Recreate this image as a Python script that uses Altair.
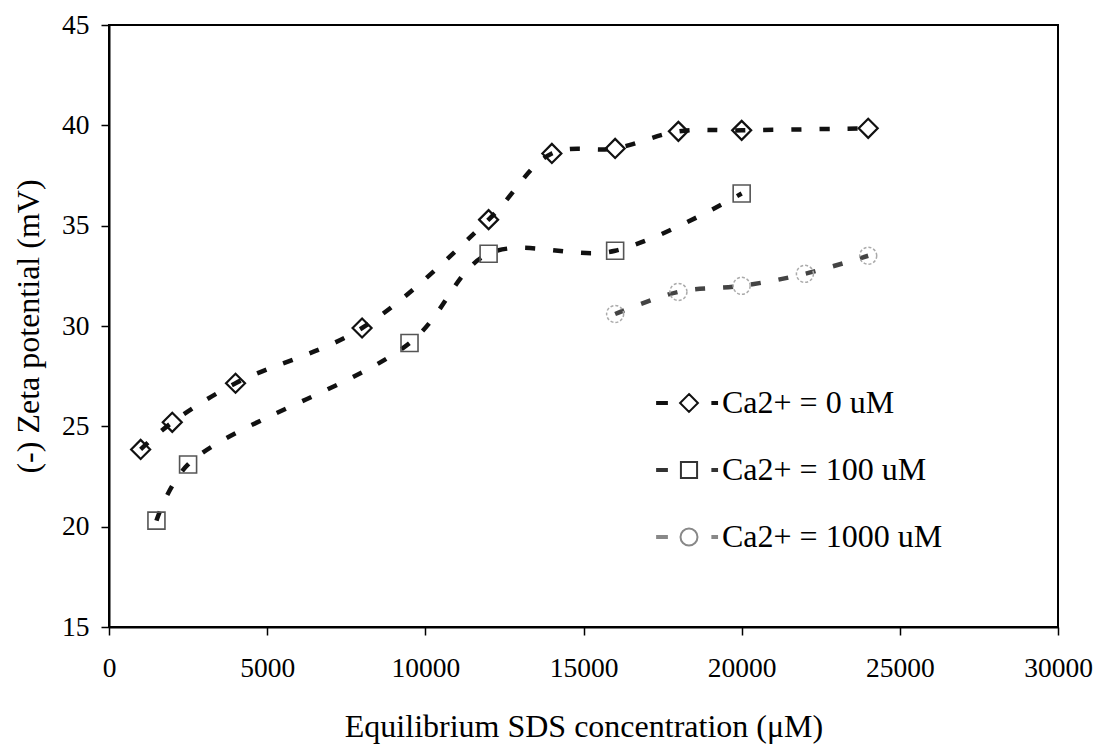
import altair as alt
import pandas as pd

# Zeta potential vs. equilibrium SDS concentration, one series per Ca2+ level
sds_0 = [1000, 2000, 4000, 8000, 12000, 14000, 16000, 18000, 20000, 24000]
zeta_0 = [23.85, 25.2, 27.15, 29.9, 35.3, 38.6, 38.85, 39.7, 39.75, 39.85]

sds_100 = [1500, 2500, 9500, 12000, 16000, 20000]
zeta_100 = [20.3, 23.1, 29.15, 33.6, 33.75, 36.6]

sds_1000 = [16000, 18000, 20000, 22000, 24000]
zeta_1000 = [30.6, 31.7, 32.0, 32.6, 33.5]

labels = ["Ca2+ = 0 uM", "Ca2+ = 100 uM", "Ca2+ = 1000 uM"]
x_ticks = [0, 5000, 10000, 15000, 20000, 25000, 30000]
y_ticks = [15, 20, 25, 30, 35, 40, 45]

FONT = "Liberation Serif"

frames = [
    pd.DataFrame({"sds": sds_0, "zeta": zeta_0, "series": labels[0]}),
    pd.DataFrame({"sds": sds_100, "zeta": zeta_100, "series": labels[1]}),
    pd.DataFrame({"sds": sds_1000, "zeta": zeta_1000, "series": labels[2]}),
]
all_data = pd.concat(frames, ignore_index=True)

x_enc = alt.X(
    "sds:Q",
    scale=alt.Scale(domain=[0, 30000], nice=False),
    axis=alt.Axis(
        values=x_ticks, format="d", title="Equilibrium SDS concentration (μM)",
        grid=False, tickSize=8, tickWidth=1.5, tickColor="black",
        domainColor="black", domainWidth=2, labelFont=FONT, labelFontSize=27.5,
        labelColor="black", labelPadding=19, labelFlush=False, labelOverlap=False,
        titleFont=FONT, titleFontSize=32, titleFontWeight="normal",
        titleColor="black", titlePadding=30,
    ),
)
y_enc = alt.Y(
    "zeta:Q",
    scale=alt.Scale(domain=[15, 45], nice=False),
    axis=alt.Axis(
        values=y_ticks, title="(-) Zeta potential (mV)",
        grid=False, tickSize=8, tickWidth=1.5, tickColor="black",
        domainColor="black", domainWidth=2, labelFont=FONT, labelFontSize=27.5,
        labelColor="black", labelPadding=12, labelFlush=False,
        titleFont=FONT, titleFontSize=32, titleFontWeight="normal",
        titleColor="black", titlePadding=16,
    ),
)

line_colors = ["#111111", "#111111", "#444444"]
marker_shapes = ["diamond", "square", "circle"]
marker_colors = ["#111111", "#555555", "#aaaaaa"]
marker_sizes = [361, 289, 289]
marker_widths = [2.2, 1.6, 1.5]

layers = []
for df, lc in zip(frames, line_colors):
    layers.append(
        alt.Chart(df).mark_line(
            interpolate="catmull-rom", strokeDash=[10, 18], strokeWidth=4.5,
            color=lc,
        ).encode(x=x_enc, y=y_enc)
    )
for df, shp, mc, ms, mw in zip(frames, marker_shapes, marker_colors,
                               marker_sizes, marker_widths):
    pt = dict(shape=shp, filled=False, color=mc, size=ms, strokeWidth=mw,
              opacity=1)
    if shp == "circle":
        pt["strokeDash"] = [3, 2]
    layers.append(alt.Chart(df).mark_point(**pt).encode(x=x_enc, y=y_enc))

# legend symbols: dash, marker, dot (unit coordinates of the symbol)
dash_l = "M-3.75,-0.12H-2.6V0.12H-3.75Z"
dot_r = "M2.75,-0.12H3.3V0.12H2.75Z"
legend_paths = [
    dash_l + "M0,-1.05L1.05,0L0,1.05L-1.05,0Z" + dot_r,
    dash_l + "M-0.95,-0.95H0.95V0.95H-0.95Z" + dot_r,
    dash_l + "M-1,0A1,1 0 1,0 1,0A1,1 0 1,0 -1,0Z" + dot_r,
]
legend_strokes = ["#111111", "#333333", "#888888"]

legend_def = alt.Legend(
    title=None, orient="none", legendX=564, legendY=362, direction="vertical",
    labelFont=FONT, labelFontSize=32, labelColor="black", labelOffset=17,
    symbolSize=289, symbolStrokeWidth=2, symbolOpacity=1, rowPadding=35,
    labelLimit=400,
)
legend_layer = alt.Chart(all_data).mark_point(filled=False, opacity=0).encode(
    x=x_enc, y=y_enc,
    shape=alt.Shape("series:N", scale=alt.Scale(domain=labels, range=legend_paths),
                    legend=legend_def),
    stroke=alt.Stroke("series:N", scale=alt.Scale(domain=labels, range=legend_strokes),
                      legend=legend_def),
)
layers.append(legend_layer)

chart = alt.layer(*layers).properties(
    width=949, height=602,
    autosize=alt.AutoSizeParams(type="none"),
    padding={"left": 109, "top": 25, "right": 40, "bottom": 121},
    background="white",
).configure_view(stroke="black", strokeWidth=2)

chart.save("out.html", embed_options={"renderer": "svg", "actions": False})
